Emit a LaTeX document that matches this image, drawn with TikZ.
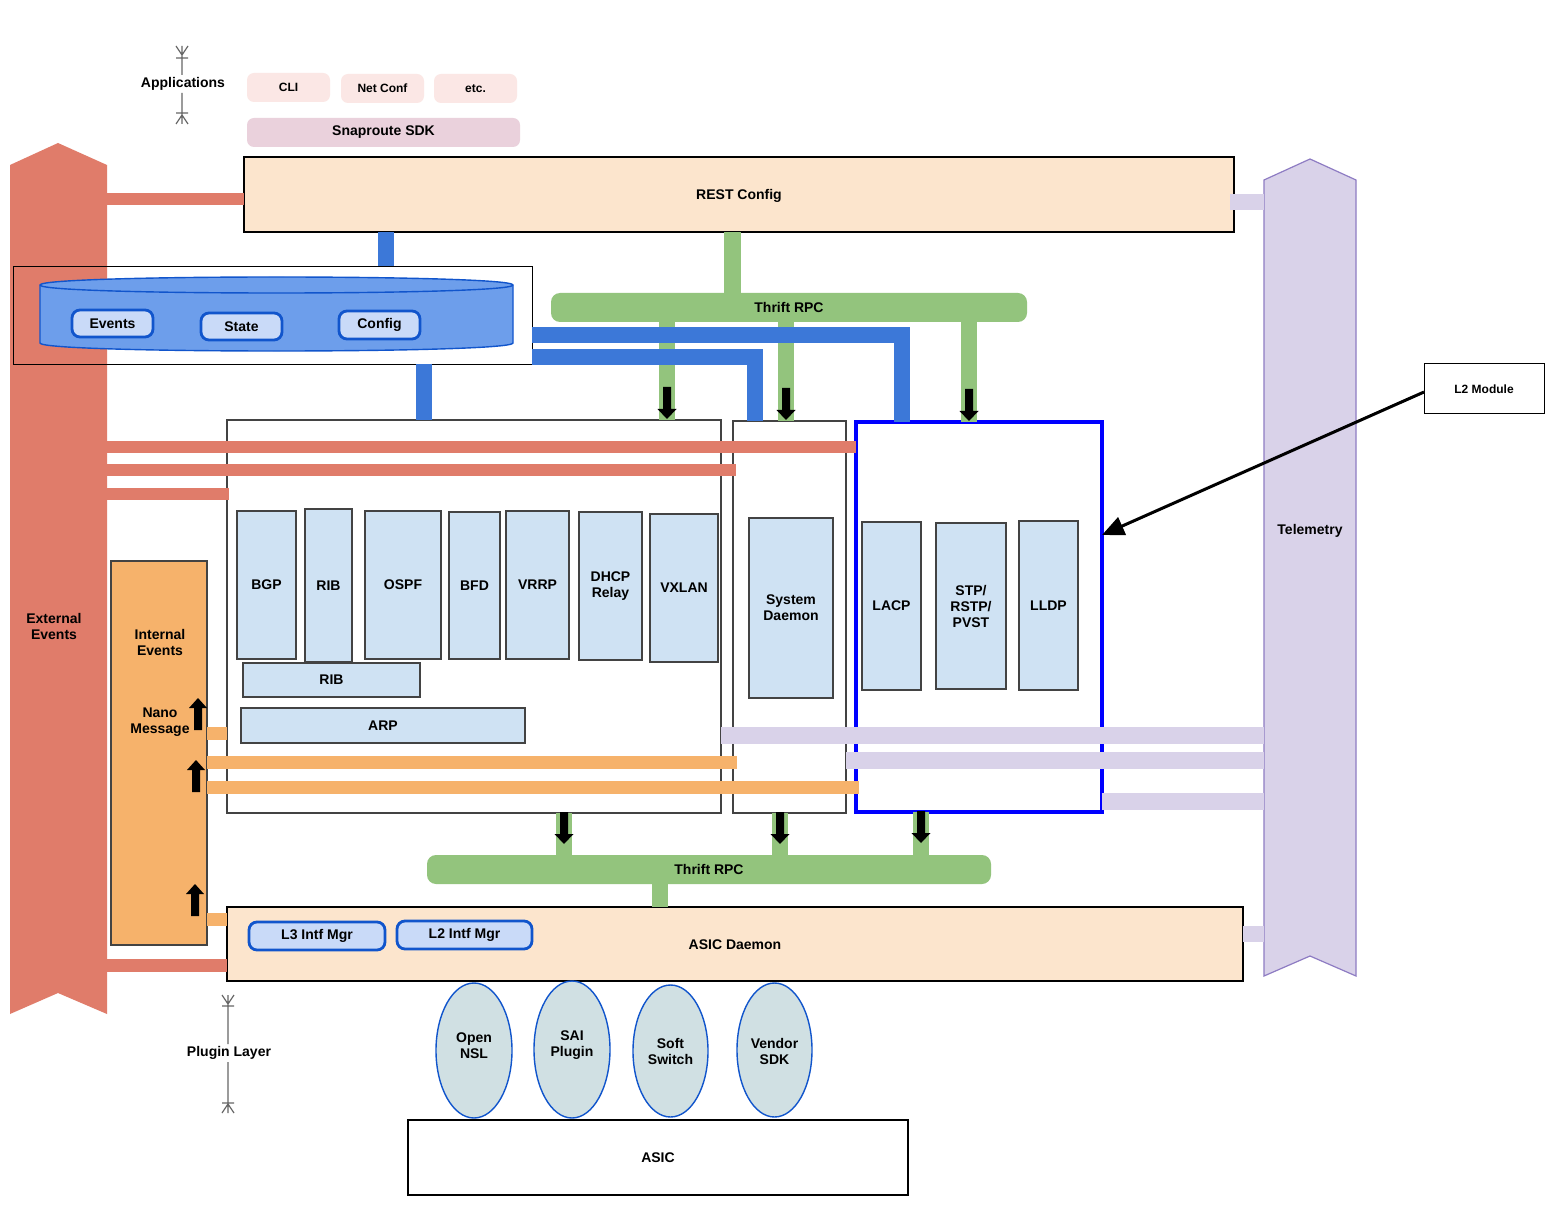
\documentclass[tikz,border=0pt]{standalone}
\usepackage{fontspec}
\setmainfont{Liberation Sans}
\usetikzlibrary{fit,arrows.meta,shapes.geometric}
\definecolor{salmon}{HTML}{E07C6A}
\definecolor{peach}{HTML}{FCE5CD}
\definecolor{grn}{HTML}{93C47D}
\definecolor{bbar}{HTML}{3C78D8}
\definecolor{cylf}{HTML}{6D9EEB}
\definecolor{cylb}{HTML}{1155CC}
\definecolor{pillf}{HTML}{C9DAF8}
\definecolor{modf}{HTML}{CFE2F3}
\definecolor{dgray}{HTML}{434343}
\definecolor{orng}{HTML}{F6B26B}
\definecolor{lav}{HTML}{D9D2E9}
\definecolor{lavd}{HTML}{8E7CC3}
\definecolor{pinkf}{HTML}{FBE7E5}
\definecolor{sdkf}{HTML}{EAD1DC}
\definecolor{ellf}{HTML}{D0E0E3}
\definecolor{dimc}{HTML}{666666}
\definecolor{pureblue}{HTML}{0000FF}
\tikzset{
  every node/.style={font=\fontsize{14}{16}\selectfont\bfseries, align=center, inner sep=0pt, outer sep=0pt},
  small/.style={font=\fontsize{12}{14}\selectfont\bfseries},
  peachbox/.style={draw=black, line width=1.8pt, fill=peach},
  contbox/.style={draw=dgray, line width=1.6pt, fill=white},
  modbox/.style={draw=dgray, line width=1.9pt, fill=modf},
  pill/.style={draw=cylb, line width=2.8pt, fill=pillf, rounded corners=8pt},
  thrift/.style={fill=grn, rounded corners=9pt},
  apppill/.style={fill=pinkf, rounded corners=7pt},
  ellbox/.style={ellipse, draw=cylb, line width=1.4pt, fill=ellf},
  salbar/.style={draw=salmon, line width=12.5pt},
  orbar/.style={draw=orng, line width=12.5pt},
  lavbar/.style={draw=lav, line width=16.5pt},
  grbar/.style={draw=grn, line width=16.5pt},
  blbar/.style={draw=bbar, line width=16pt, line join=miter},
  dimline/.style={draw=dimc, line width=1.2pt},
  darr/.pic={\fill[black] (-4,-32) -- (4,-32) -- (4,-10) -- (9.5,-10) -- (0,0) -- (-9.5,-10) -- (-4,-10) -- cycle;},
  uarr/.pic={\fill[black] (-4,32) -- (4,32) -- (4,10) -- (9,10) -- (0,0) -- (-9,10) -- (-4,10) -- cycle;}
}
\begin{document}
\begin{tikzpicture}[x=1pt,y=-1pt]
\useasboundingbox[fill=white] (0,0) rectangle (1564,1214);

% big side arrows
\fill[salmon] (10,165) -- (58,143) -- (107,165) -- (107,1014) -- (58,993) -- (10,1014) -- cycle;
\coordinate (ext) at (107,600);
\node (extlbl) at (54,626) {External\\Events};
\filldraw[fill=lav, draw=lavd, line width=1.2pt] (1264,180) -- (1310,159) -- (1356,180) -- (1356,976) -- (1310,956) -- (1264,976) -- cycle;
\coordinate (telw) at (1264,600);
\node (tellbl) at (1310,531) {Telemetry};

% applications
\node[apppill, fit={(247,73)(330,102)}, label={[small]center:CLI}] (cli) {};
\node[apppill, fit={(341,74)(424,103)}, label={[small]center:Net Conf}] (netconf) {};
\node[apppill, fit={(434,74)(517,103)}, label={[small]center:etc.}] (etc) {};
\node[fill=sdkf, rounded corners=7pt, fit={(247,118)(520,147)}, label=center:Snaproute SDK] (sdk) {};
\node (applbl) at (183,84) {Applications};
\draw[dimline] (182,46) -- (182,75) (182,93) -- (182,124) (176,58) -- (188,58) (176,113) -- (188,113)
  (176,46) -- (182,55) -- (188,46) (176,124) -- (182,115) -- (188,124);

% REST config
\node[peachbox, fit={(244,157)(1234,232)}, label={[yshift=-1.5pt]center:REST Config}] (rest) {};
\draw[salbar] (ext |- 0,199) -- (rest.west |- 0,199);
\draw[lavbar] (1230,202) -- (telw |- 0,202);

% DB
\draw[blbar] (rest.south -| 386,0) -- (386,266);
\node[draw=black, line width=0.9pt, fit={(13,266)(532,364)}] (db) {};
\filldraw[fill=cylf, draw=cylb, line width=1.4pt] (40,285) -- (40,343) .. controls (40,353.67) and (513,353.67) .. (513,343) -- (513,285) .. controls (513,274.33) and (40,274.33) .. (40,285) -- cycle;
\draw[cylb, line width=1.4pt] (40,285) .. controls (40,295.67) and (513,295.67) .. (513,285);
\node[pill, fit={(72,310)(153,337)}, label=center:Events] (ev) {};
\node[pill, fit={(201,313)(282,340)}, label=center:State] (st) {};
\node[pill, fit={(339,311)(420,339)}, label=center:Config] (cfg) {};

% Thrift top
\draw[grbar] (rest.south -| 732.5,0) -- (732.5,293);
\node[thrift, fit={(551,293)(1027,322)}, label=center:Thrift RPC] (t1) {};

% containers
\node[contbox, fit={(227,420)(721,813)}] (l3) {};
\node[contbox, fit={(733,421)(846,813)}] (sysc) {};
\draw[draw=pureblue, line width=3.2pt] (856,422) rectangle (1102,812);
\node[fit={(856,422)(1102,812)}] (l2c) {};

\draw[grbar] (t1.south -| 667,0) -- (667,420);
\draw[grbar] (t1.south -| 786,0) -- (786,421);
\draw[grbar] (t1.south -| 969,0) -- (969,422);
\draw[blbar] (db.east |- 0,335) -- (901.5,335) -- (901.5,422);
\draw[blbar] (db.east |- 0,357) -- (755,357) -- (755,421);
\draw[blbar] (db.south -| 424,0) -- (424,420);
\pic at (667,419) {darr};
\pic at (786,420) {darr};
\pic at (969,421) {darr};

% modules
\node[modbox, fit={(237,511)(296,659)}, label=center:BGP] (bgp) {};
\node[modbox, fit={(305,509)(352,662)}, label=center:RIB] (rib) {};
\node[modbox, fit={(365,511)(441,659)}, label=center:OSPF] (ospf) {};
\node[modbox, fit={(449,512)(500,659)}, label=center:BFD] (bfd) {};
\node[modbox, fit={(506,511)(569,659)}, label=center:VRRP] (vrrp) {};
\node[modbox, fit={(579,512)(642,660)}, label={center:DHCP\\Relay}] (dhcp) {};
\node[modbox, fit={(650,514)(718,662)}, label=center:VXLAN] (vxlan) {};
\node[modbox, fit={(243,663)(420,697)}, label=center:RIB] (rib2) {};
\node[modbox, fit={(241,708)(525,743)}, label=center:ARP] (arp) {};
\node[modbox, fit={(749,518)(833,698)}, label={center:System\\Daemon}] (sysd) {};
\node[modbox, fit={(862,522)(921,690)}, label=center:LACP] (lacp) {};
\node[modbox, fit={(936,523)(1006,689)}, label={center:STP/\\RSTP/\\PVST}] (stp) {};
\node[modbox, fit={(1019,521)(1078,690)}, label=center:LLDP] (lldp) {};

% internal events
\node[draw=dgray, line width=1.6pt, fill=orng, fit={(111,561)(207,945)}] (ie) {};
\node (ielbl) at (160,642) {Internal\\Events};
\node (nano) at (160,722) {Nano\\Message};

% salmon bars
\draw[salbar] (ext |- 0,447) -- (l2c.west |- 0,447);
\draw[salbar] (ext |- 0,470) -- (736,470);
\draw[salbar] (ext |- 0,494) -- (229,494);

% orange bars
\draw[orbar] (ie.east |- 0,733.5) -- (l3.west |- 0,733.5);
\draw[orbar] (ie.east |- 0,762.5) -- (737,762.5);
\draw[orbar] (ie.east |- 0,787.5) -- (859,787.5);

% lavender bars
\draw[lavbar] (l3.east |- 0,735.5) -- (telw |- 0,735.5);
\draw[lavbar] (sysc.east |- 0,760.5) -- (telw |- 0,760.5);
\draw[lavbar] (l2c.east |- 0,801.5) -- (telw |- 0,801.5);

% bottom thrift
\node[thrift, fit={(427,855)(991,884)}, label=center:Thrift RPC] (t2) {};
\draw[grbar] (l3.south -| 564,0) -- (564,855);
\draw[grbar] (sysc.south -| 780,0) -- (780,855);
\draw[grbar] (l2c.south -| 921,0) -- (921,855);
\pic at (564,844) {darr};
\pic at (780,844) {darr};
\pic at (921,843) {darr};

% ASIC daemon
\node[peachbox, fit={(227,907)(1243,981)}, label={[yshift=-1pt]center:ASIC Daemon}] (asicd) {};
\draw[grbar] (t2.south -| 660,0) -- (asicd.north -| 660,0);
\node[pill, fit={(249,922)(385,950)}, label=center:L3 Intf Mgr] (l3i) {};
\node[pill, fit={(397,921)(532,949)}, label=center:L2 Intf Mgr] (l2i) {};
\draw[orbar] (ie.east |- 0,919.5) -- (asicd.west |- 0,919.5);
\draw[salbar] (ext |- 0,965.5) -- (asicd.west |- 0,965.5);
\draw[lavbar] (asicd.east |- 0,934) -- (telw |- 0,934);

% up arrows
\pic at (198,698) {uarr};
\pic at (196,760) {uarr};
\pic at (195,884) {uarr};

% plugins
\node[ellbox, minimum width=76pt, minimum height=135pt, label={[yshift=5pt]center:Open\\NSL}] (onsl) at (474,1050.5) {};
\node[ellbox, minimum width=76pt, minimum height=137pt, label={[yshift=4pt]center:SAI\\Plugin}] (sai) at (572,1049.5) {};
\node[ellbox, minimum width=75pt, minimum height=132pt, label={center:Soft\\Switch}] (soft) at (670.5,1051) {};
\node[ellbox, minimum width=75pt, minimum height=134pt, label={[yshift=-1pt]center:Vendor\\SDK}] (vend) at (774.5,1050) {};
\node[draw=black, line width=1.8pt, fit={(408,1120)(908,1195)}, label=center:ASIC] (asic) {};

\node (pluglbl) at (229,1053) {Plugin Layer};
\draw[dimline] (228,995) -- (228,1044) (228,1062) -- (228,1113) (222,1006) -- (234,1006) (222,1103) -- (234,1103)
  (222,995) -- (228,1004) -- (234,995) (222,1113) -- (228,1104) -- (234,1113);

% L2 module
\node[draw=black, line width=1pt, fit={(1424,364)(1544,414)}, label={[small]center:L2 Module}] (l2m) {};
\draw[line width=3pt, -{Triangle[width=19pt,length=22pt]}] (l2m.west |- 0,392) -- (l2c.east |- 0,535);
\end{tikzpicture}
\end{document}
